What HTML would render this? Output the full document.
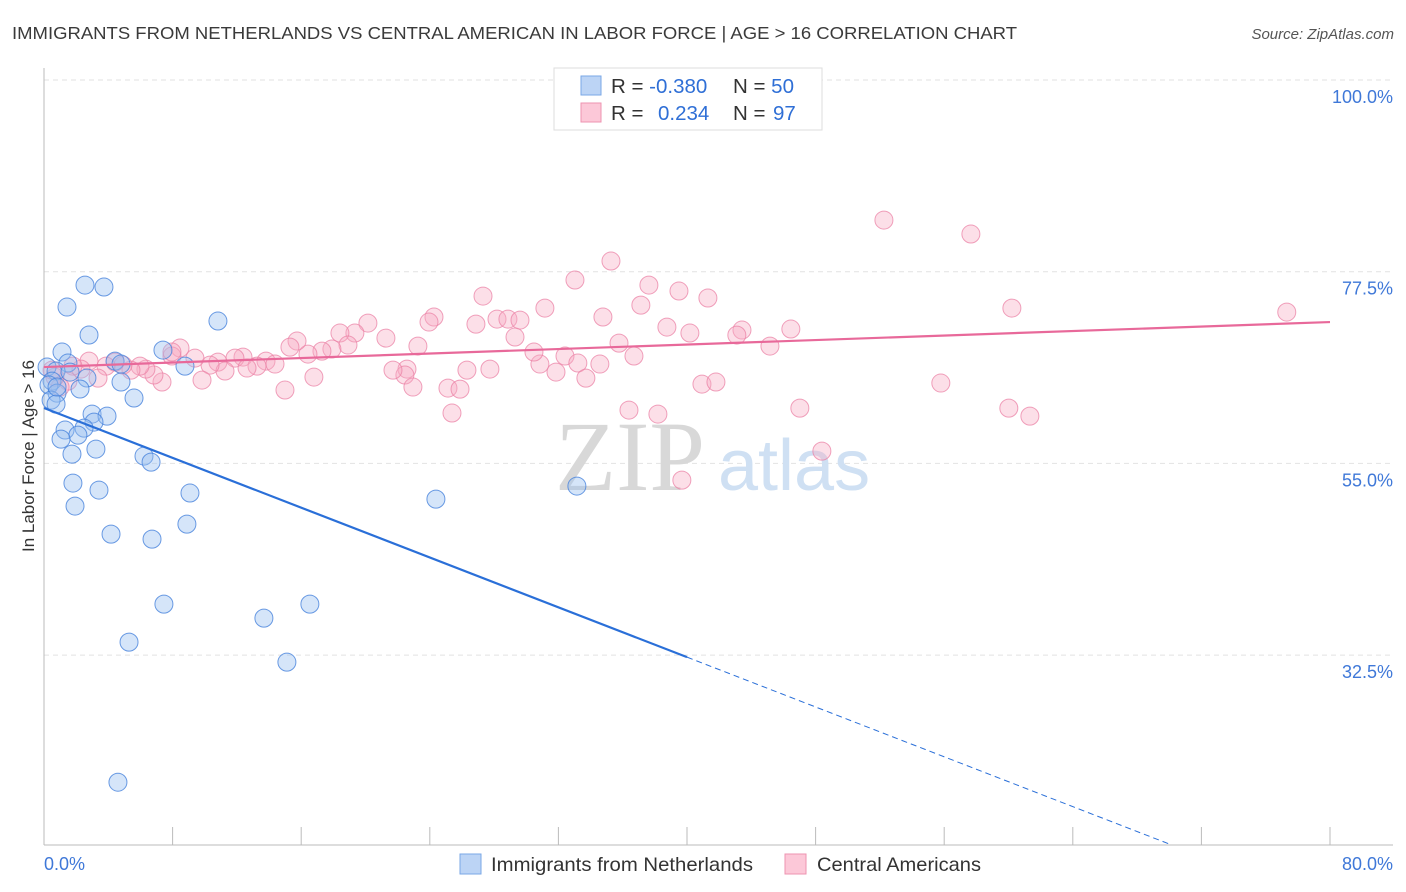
<!DOCTYPE html>
<html><head><meta charset="utf-8"><style>
body{margin:0;background:#fff;font-family:"Liberation Sans",sans-serif;}
svg{display:block}
</style></head><body>
<svg id="chart" width="1406" height="892" xmlns="http://www.w3.org/2000/svg">
<text x="12" y="39" font-size="17.5" fill="#3a3a3a" textLength="1005" lengthAdjust="spacingAndGlyphs">IMMIGRANTS FROM NETHERLANDS VS CENTRAL AMERICAN IN LABOR FORCE | AGE &gt; 16 CORRELATION CHART</text>
<text x="1394" y="39" font-size="15" fill="#555" font-style="italic" text-anchor="end">Source: ZipAtlas.com</text>
<g id="grid"></g>
<text x="555" y="490" font-size="100" fill="#d8d8d8" font-family="Liberation Serif">ZIP</text>
<text x="718" y="490" font-size="72" fill="#cfe0f3">atlas</text>
<g id="axes"></g>
<g id="pink"></g>
<g id="blue"></g>
<g id="lines"></g>
<text x="34" y="456" font-size="17" fill="#333" text-anchor="middle" transform="rotate(-90 34 456)">In Labor Force | Age &gt; 16</text>
<g>
<rect x="554" y="68" width="268" height="62" fill="#fff" stroke="#ddd"/>
<rect x="581" y="76" width="20" height="19" fill="#bcd4f5" stroke="#7aa7e6"/>
<rect x="581" y="103" width="20" height="19" fill="#fcc8d8" stroke="#ee93b0"/>
<text x="611" y="93" font-size="20.5" fill="#333">R = <tspan fill="#2f6fd6">-0.380</tspan></text>
<text x="733" y="93" font-size="20.5" fill="#333">N = <tspan fill="#2f6fd6">50</tspan></text>
<text x="611" y="120" font-size="20.5" fill="#333">R = <tspan x="658" fill="#2f6fd6">0.234</tspan></text>
<text x="733" y="120" font-size="20.5" fill="#333">N = <tspan x="773" fill="#2f6fd6">97</tspan></text>
</g>
<g>
<rect x="460" y="854" width="21" height="20" fill="#bcd4f5" stroke="#7aa7e6"/>
<text x="491" y="871" font-size="19.5" fill="#333" textLength="262" lengthAdjust="spacingAndGlyphs">Immigrants from Netherlands</text>
<rect x="785" y="854" width="21" height="20" fill="#fcc8d8" stroke="#ee93b0"/>
<text x="817" y="871" font-size="19.5" fill="#333" textLength="164" lengthAdjust="spacingAndGlyphs">Central Americans</text>
</g>
</svg>
<script>
const blueX=[2.55,3.73,1.43,2.80,10.82,1.12,7.40,1.49,4.42,4.79,8.77,0.19,0.75,1.62,2.67,0.50,4.79,2.24,0.31,0.81,0.44,0.75,5.60,2.99,3.92,3.11,2.49,1.31,2.11,1.06,3.23,1.74,6.22,6.66,1.80,3.42,9.08,1.93,24.38,33.15,8.89,4.17,6.72,7.46,16.54,13.68,5.29,15.11,4.60,0.81];
const blueY=[75.93,75.70,73.35,70.07,71.71,68.07,68.30,66.78,67.01,66.66,66.42,66.31,65.84,65.72,65.02,64.66,64.55,63.73,64.20,63.25,62.43,61.96,62.67,60.79,60.55,59.85,59.14,58.92,58.32,57.85,56.68,56.09,55.86,55.15,52.69,51.87,51.52,49.99,50.81,52.34,47.87,46.70,46.11,38.48,38.48,36.84,34.02,31.67,17.58,63.96];
const pinkX=[52.25,57.66,77.31,60.21,33.03,35.27,37.63,39.50,41.30,27.31,31.16,34.77,37.13,24.26,23.95,26.87,28.18,28.86,29.61,29.30,38.75,40.18,43.42,43.10,46.46,45.16,35.77,36.70,32.41,34.58,33.21,31.85,33.71,30.85,30.48,27.74,26.31,25.13,25.88,25.38,22.58,22.45,22.95,21.71,23.26,21.27,20.15,19.34,18.41,18.91,17.91,17.29,16.42,15.74,15.30,14.99,16.79,13.81,14.37,12.38,11.88,13.25,12.63,10.82,11.26,10.33,9.83,9.39,8.46,7.96,7.34,6.84,6.34,5.97,5.41,4.91,4.42,3.86,3.36,2.80,2.30,1.80,1.49,1.00,0.68,0.50,36.39,38.19,40.93,41.80,47.02,55.79,60.02,61.33,48.39,39.68,7.96];
const pinkY=[83.56,81.92,72.76,73.23,76.52,78.75,75.93,75.23,74.41,74.64,73.23,72.18,73.58,72.18,71.59,71.35,71.94,71.94,71.82,69.83,71.00,70.30,70.65,70.06,70.77,68.77,69.12,67.60,67.60,66.66,66.78,65.72,65.01,66.66,68.07,66.07,65.95,63.84,63.72,60.91,66.07,65.37,63.96,65.95,68.77,69.71,71.47,70.30,70.30,68.89,68.42,68.18,67.83,69.36,68.65,63.61,65.13,67.01,66.66,67.48,67.36,66.42,66.19,66.89,65.84,66.54,64.78,67.36,68.54,67.60,64.55,65.37,66.07,66.42,65.95,66.54,66.89,66.42,65.01,67.01,66.07,66.42,64.66,63.96,65.13,65.95,61.26,60.79,64.31,64.55,61.49,64.43,61.49,60.55,56.44,53.04,68.07];
const yTicks=[100,77.5,55,32.5];
const yTickLabels=["100.0%","77.5%","55.0%","32.5%"];
const blueTrend=[61.5,-0.731];
const pinkTrend=[66.31,0.066];
const NS="http://www.w3.org/2000/svg";
const X0=44,X1=1330,Y100=80,PXPER=191.7/22.5,BOT=845;
const xs=v=>X0+v/80*(X1-X0);
const ys=v=>Y100+(100-v)*PXPER;
function mk(tag,at,parent){const e=document.createElementNS(NS,tag);for(const k in at)e.setAttribute(k,at[k]);document.getElementById(parent).appendChild(e);return e;}
yTicks.forEach((t,i)=>{
 const l=mk('line',{x1:X0,x2:1393,y1:ys(t),y2:ys(t),stroke:'#e2e2e2','stroke-dasharray':'5,4'},'grid');
 
 
 const tx=mk('text',{x:1393,y:ys(t)+23,'font-size':18,fill:'#3f78d8','text-anchor':'end'},'grid');
 tx.textContent=yTickLabels[i];
 
 
});
let a=mk('line',{x1:X0,x2:X0,y1:68,y2:BOT,stroke:'#bbb'},'axes');


a=mk('line',{x1:X0,x2:1393,y1:BOT,y2:BOT,stroke:'#bbb'},'axes');


for(let i=0;i<=10;i++){const t=mk('line',{x1:xs(i*8),x2:xs(i*8),y1:BOT-18,y2:BOT,stroke:'#bbb'},'axes');
 
 }
let t0=mk('text',{x:44,y:870,'font-size':18,fill:'#3f78d8'},'axes');t0.textContent='0.0%';


t0=mk('text',{x:1393,y:870,'font-size':18,fill:'#3f78d8','text-anchor':'end'},'axes');t0.textContent='80.0%';


pinkX.forEach((x,i)=>{const c=mk('circle',{cx:xs(x),cy:ys(pinkY[i]),r:9,fill:'rgba(248,170,195,0.38)',stroke:'rgba(235,130,165,0.75)','stroke-width':1},'pink');
 
 });
blueX.forEach((x,i)=>{const c=mk('circle',{cx:xs(x),cy:ys(blueY[i]),r:9,fill:'rgba(150,190,240,0.4)',stroke:'rgba(70,130,220,0.8)','stroke-width':1},'blue');
 
 });
const bAt=x=>blueTrend[0]+blueTrend[1]*x;
const yBot=100-(BOT-Y100)/PXPER;
const xEnd=(yBot-blueTrend[0])/blueTrend[1];
let ln=mk('line',{x1:xs(0),y1:ys(bAt(0)),x2:xs(40),y2:ys(bAt(40)),stroke:'#2a6fd8','stroke-width':2.2},'lines');


ln=mk('line',{x1:xs(40),y1:ys(bAt(40)),x2:xs(xEnd),y2:ys(bAt(xEnd)),stroke:'#2a6fd8','stroke-width':1,'stroke-dasharray':'6,4'},'lines');


const pAt=x=>pinkTrend[0]+pinkTrend[1]*x;
ln=mk('line',{x1:xs(0),y1:ys(pAt(0)),x2:xs(80),y2:ys(pAt(80)),stroke:'#e8699a','stroke-width':2.2},'lines');


</script>
</body></html>
